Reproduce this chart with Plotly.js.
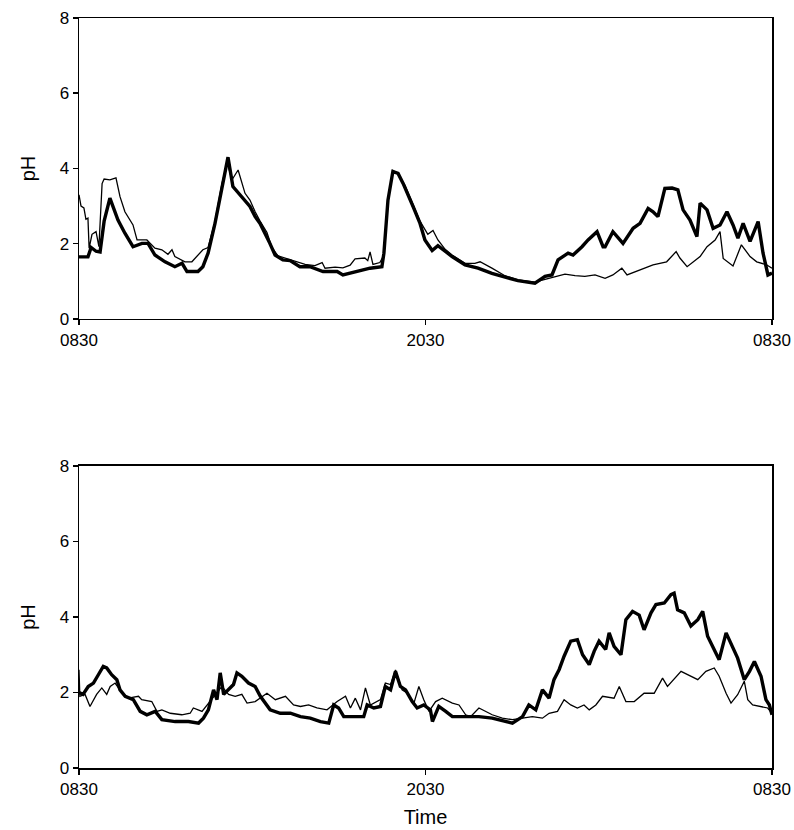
<!DOCTYPE html>
<html>
<head>
<meta charset="utf-8">
<script src="https://cdn.plot.ly/plotly-3.0.1.min.js"></script>
<style>html,body{margin:0;padding:0;background:#fff}#chart{width:794px;height:830px}</style>
</head>
<body>
<div id="chart"></div>
<script>
// Time axis: hours after 08:30 (0 = 0830, 12 = 2030, 24 = 0830)
const tickHours = [0, 12, 24];
const tickLabels = ["0830", "2030", "0830"];
const phTicks = [0, 2, 4, 6, 8];

// Upper panel — thick trace
const topThickT = [0.00,0.31,0.42,0.59,0.73,0.87,1.07,1.35,1.59,1.87,2.18,2.39,2.63,2.98,3.32,3.57,3.74,4.12,4.29,4.47,4.71,4.95,5.16,5.33,5.65,5.92,6.10,6.27,6.61,6.79,7.06,7.31,7.65,8.00,8.45,8.94,9.14,9.63,10.08,10.49,10.56,10.70,10.87,11.05,11.22,11.57,11.81,11.98,12.23,12.43,12.61,12.92,13.37,13.82,14.30,14.75,15.20,15.79,16.14,16.38,16.59,16.94,17.11,17.42,17.63,17.94,18.15,18.22,18.49,18.84,19.19,19.43,19.71,19.88,20.05,20.29,20.54,20.74,20.92,21.16,21.40,21.51,21.75,21.96,22.20,22.44,22.65,22.82,23.00,23.24,23.52,23.69,23.86,24.00];
const topThickPH = [1.65,1.65,1.90,1.80,1.78,2.60,3.21,2.63,2.28,1.92,2.01,2.01,1.70,1.52,1.39,1.48,1.26,1.26,1.39,1.75,2.54,3.52,4.30,3.52,3.25,2.99,2.72,2.54,2.01,1.70,1.57,1.55,1.39,1.39,1.26,1.26,1.17,1.26,1.35,1.39,1.75,3.16,3.92,3.87,3.61,2.99,2.54,2.10,1.82,1.95,1.85,1.66,1.44,1.35,1.21,1.11,1.02,0.95,1.13,1.17,1.57,1.75,1.70,1.92,2.10,2.32,1.92,1.92,2.32,2.01,2.41,2.54,2.94,2.85,2.72,3.47,3.48,3.43,2.90,2.63,2.19,3.08,2.90,2.41,2.50,2.85,2.50,2.15,2.54,2.06,2.59,1.75,1.17,1.22];

// Upper panel — thin trace
const topThinT = [0.00,0.07,0.17,0.24,0.31,0.35,0.45,0.59,0.69,0.80,0.87,1.07,1.28,1.42,1.59,1.87,2.01,2.18,2.35,2.63,2.87,3.08,3.22,3.32,3.67,3.91,4.29,4.47,4.71,4.95,5.13,5.30,5.51,5.75,5.92,6.10,6.27,6.51,6.68,6.89,7.13,7.48,7.83,8.17,8.42,8.52,8.87,9.14,9.39,9.56,9.90,10.00,10.08,10.18,10.42,10.56,10.70,10.87,11.05,11.29,11.57,11.81,12.08,12.26,12.43,12.68,12.92,13.37,13.71,13.89,14.30,14.75,15.20,15.79,16.14,16.59,16.83,17.18,17.52,17.87,18.22,18.49,18.80,18.98,19.43,19.88,20.35,20.68,20.81,21.06,21.51,21.75,22.03,22.20,22.31,22.65,22.94,23.24,23.47,23.81,24.00];
const topThinPH = [3.30,3.00,2.95,2.65,2.68,1.88,2.25,2.32,1.92,3.60,3.72,3.70,3.75,3.25,2.85,2.50,2.10,2.10,2.10,1.88,1.84,1.72,1.84,1.66,1.52,1.52,1.84,1.90,2.60,3.60,4.15,3.70,3.96,3.34,3.16,2.85,2.60,2.30,1.90,1.68,1.62,1.55,1.45,1.42,1.50,1.35,1.38,1.36,1.43,1.60,1.62,1.55,1.78,1.45,1.50,1.70,3.10,3.95,3.85,3.55,3.05,2.60,2.25,2.35,2.10,1.85,1.70,1.48,1.48,1.52,1.35,1.15,1.04,0.98,1.05,1.13,1.19,1.15,1.13,1.17,1.08,1.17,1.35,1.17,1.30,1.44,1.52,1.79,1.62,1.39,1.66,1.92,2.10,2.32,1.61,1.41,1.97,1.66,1.52,1.44,1.35];

// Lower panel — thick trace
const botThickT = [0.00,0.14,0.32,0.50,0.67,0.84,0.96,1.13,1.31,1.42,1.60,1.88,2.12,2.35,2.64,2.87,3.33,3.79,4.14,4.31,4.48,4.66,4.78,4.89,5.01,5.18,5.35,5.47,5.64,5.87,6.10,6.28,6.62,6.97,7.32,7.67,8.01,8.36,8.65,8.82,8.99,9.17,9.40,9.63,9.86,9.98,10.21,10.44,10.61,10.79,10.96,11.13,11.31,11.54,11.71,11.94,12.17,12.24,12.46,12.70,12.93,13.39,13.85,14.31,14.78,15.01,15.36,15.58,15.82,16.05,16.28,16.45,16.63,16.80,17.03,17.26,17.44,17.67,17.84,18.01,18.24,18.36,18.53,18.77,18.94,19.17,19.40,19.57,19.81,19.98,20.27,20.50,20.61,20.73,20.96,21.19,21.43,21.60,21.77,22.00,22.17,22.41,22.64,22.81,23.04,23.22,23.39,23.62,23.79,23.91,24.00];
const botThickPH = [2.00,1.95,2.16,2.25,2.47,2.69,2.65,2.47,2.34,2.07,1.90,1.81,1.50,1.41,1.50,1.28,1.23,1.23,1.19,1.32,1.54,2.07,1.81,2.52,1.95,2.07,2.21,2.52,2.43,2.25,2.16,1.90,1.54,1.45,1.45,1.36,1.32,1.23,1.19,1.67,1.59,1.36,1.36,1.36,1.36,1.67,1.59,1.63,2.16,2.07,2.56,2.16,2.07,1.76,1.59,1.67,1.54,1.23,1.63,1.50,1.36,1.36,1.36,1.32,1.23,1.19,1.36,1.67,1.54,2.07,1.85,2.34,2.61,2.96,3.36,3.40,3.00,2.74,3.09,3.36,3.14,3.58,3.22,3.00,3.93,4.15,4.05,3.66,4.11,4.33,4.37,4.59,4.63,4.19,4.11,3.76,3.93,4.15,3.49,3.14,2.87,3.58,3.22,2.91,2.34,2.56,2.82,2.43,1.81,1.67,1.41];

// Lower panel — thin trace
const botThinT = [0.00,0.03,0.21,0.38,0.61,0.79,0.96,1.08,1.25,1.48,1.71,2.06,2.17,2.52,2.70,2.87,3.16,3.56,3.85,3.96,4.26,4.48,4.72,4.95,5.18,5.41,5.64,5.82,6.10,6.51,6.80,7.15,7.43,7.67,7.95,8.24,8.59,8.94,9.23,9.40,9.57,9.75,9.92,10.09,10.44,10.61,10.79,10.96,11.19,11.37,11.60,11.77,11.94,12.12,12.35,12.58,12.93,13.16,13.39,13.56,13.85,14.08,14.31,14.66,15.01,15.36,15.70,16.05,16.28,16.57,16.80,17.03,17.26,17.49,17.67,17.90,18.13,18.53,18.71,18.94,19.23,19.57,19.92,20.21,20.38,20.85,21.19,21.43,21.71,22.00,22.17,22.41,22.58,22.81,23.04,23.16,23.33,23.62,23.85,24.00];
const botThinPH = [2.60,1.90,1.95,1.63,1.95,2.12,1.95,2.16,2.25,2.00,1.85,1.90,1.81,1.76,1.50,1.54,1.45,1.41,1.45,1.59,1.50,1.72,1.95,2.16,1.95,1.90,1.95,1.72,1.76,1.98,1.81,1.90,1.67,1.63,1.67,1.59,1.54,1.76,1.90,1.59,1.85,1.54,2.12,1.67,1.81,2.25,2.21,2.60,2.07,1.98,1.72,2.16,1.81,1.50,1.76,1.85,1.72,1.67,1.41,1.36,1.59,1.50,1.41,1.32,1.28,1.32,1.36,1.32,1.45,1.50,1.81,1.67,1.59,1.67,1.54,1.67,1.90,1.85,2.16,1.76,1.76,1.98,1.98,2.38,2.16,2.56,2.43,2.34,2.56,2.65,2.43,1.98,1.72,1.94,2.30,1.81,1.67,1.63,1.59,1.45];

const black = "#000";
const thick = {color: black, width: 3.4};
const thin = {color: black, width: 1.3};

const traces = [
  {x: topThinT, y: topThinPH, mode: "lines", line: thin, xaxis: "x", yaxis: "y", hoverinfo: "skip"},
  {x: topThickT, y: topThickPH, mode: "lines", line: thick, xaxis: "x", yaxis: "y", hoverinfo: "skip"},
  {x: botThinT, y: botThinPH, mode: "lines", line: thin, xaxis: "x2", yaxis: "y2", hoverinfo: "skip"},
  {x: botThickT, y: botThickPH, mode: "lines", line: thick, xaxis: "x2", yaxis: "y2", hoverinfo: "skip"}
];

const font = {family: "Liberation Sans, Arial, sans-serif", size: 17, color: black};
const titleFont = {family: "Liberation Sans, Arial, sans-serif", size: 20, color: black};

function xAx(anchor, dom, withTitle) {
  const a = {
    domain: dom, anchor: anchor, range: [0, 24], tickmode: "array",
    tickvals: tickHours, ticktext: tickLabels, ticks: "outside", ticklen: 5,
    tickwidth: 1.5, tickcolor: black, showline: true, linecolor: black, linewidth: 1.5,
    mirror: true, showgrid: false, zeroline: false, tickfont: font
  };
  if (withTitle) a.title = {text: "Time", font: titleFont, standoff: 12};
  return a;
}
function yAx(anchor, dom) {
  return {
    domain: dom, anchor: anchor, range: [0, 8], tickmode: "array", tickvals: phTicks,
    ticks: "outside", ticklen: 5, tickwidth: 1.5, tickcolor: black,
    showline: true, linecolor: black, linewidth: 1.5, mirror: true,
    showgrid: false, zeroline: false, tickfont: font,
    title: {text: "pH", font: titleFont, standoff: 18}
  };
}

const layout = {
  width: 794, height: 830,
  margin: {l: 79, r: 22, t: 18, b: 62},
  paper_bgcolor: "#fff", plot_bgcolor: "#fff",
  showlegend: false,
  xaxis: xAx("y", [0, 1], false),
  yaxis: yAx("x", [0.5987, 1]),
  xaxis2: xAx("y2", [0, 1], true),
  yaxis2: yAx("x2", [0, 0.4027])
};

Plotly.newPlot("chart", traces, layout, {staticPlot: true, displayModeBar: false});
</script>
</body>
</html>
